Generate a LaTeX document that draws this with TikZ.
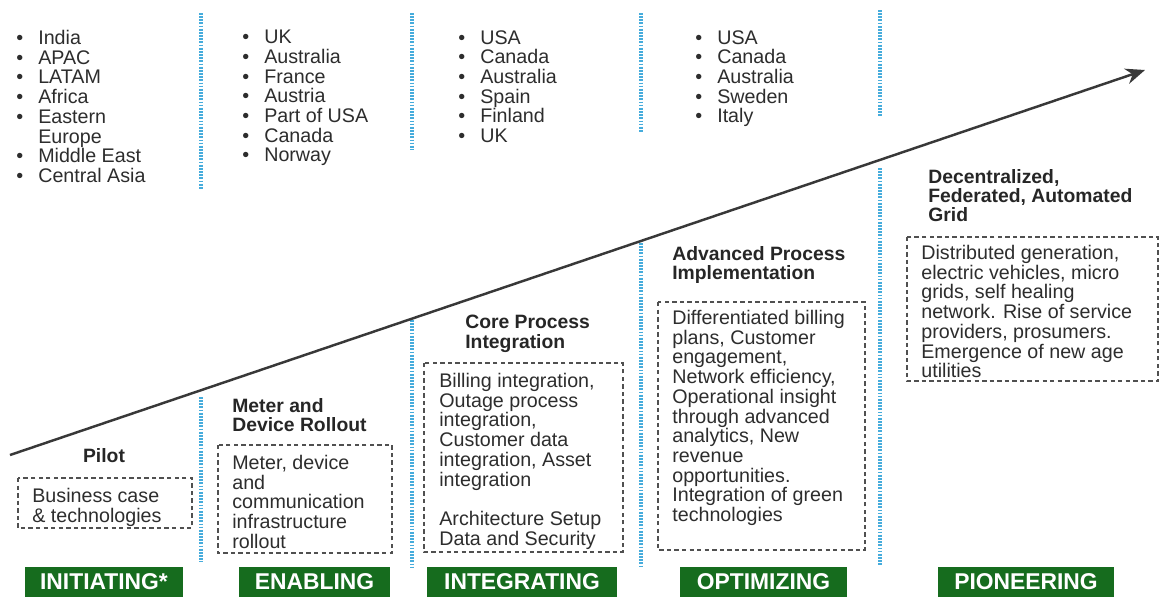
\documentclass[tikz,border=0pt]{standalone}
\usepackage{fontspec}
\setmainfont{Liberation Sans}
\usetikzlibrary{arrows.meta}
\definecolor{stagegreen}{RGB}{22,108,30}
\definecolor{seplblue}{RGB}{70,172,220}
\definecolor{boxgray}{RGB}{80,80,80}
\definecolor{textgray}{RGB}{45,45,45}
\newcommand{\itm}{\makebox[12.5pt][l]{\textbullet}}
\begin{document}
\begin{tikzpicture}[x=0.02cm,y=-0.02cm,
        list/.style={anchor=north west,inner sep=0pt,align=left,text=textgray,font=\fontsize{11.2pt}{11.2pt}\selectfont},
        title/.style={anchor=north west,inner sep=0pt,align=left,text=black!85,font=\fontsize{11pt}{10.9pt}\selectfont\bfseries},
        dbox/.style={draw=boxgray,line width=0.8pt,dash pattern=on 2.5pt off 1.8pt},
        sep/.style={draw=seplblue,line width=2pt,dash pattern=on 1pt off 0.8pt},
        stage/.style={fill=stagegreen,text=white,font=\fontsize{13pt}{13pt}\selectfont\bfseries,minimum height=0.6cm,inner sep=0pt}]
    \fill[white] (0,0) rectangle (1165,599);
    \useasboundingbox (0,0) rectangle (1165,599);
    \draw[sep] (201,13) -- (201,190);
    \draw[sep] (412,13) -- (412,150);
    \draw[sep] (641,13) -- (641,132);
    \draw[sep] (880,10) -- (880,117);
    \draw[sep] (201,397) -- (201,562);
    \draw[sep] (412,320) -- (412,567);
    \draw[sep] (641,243) -- (641,566);
    \draw[sep] (880,168) -- (880,566);
    \node[list] (countriesA) at (16,30) {\itm India\\ \itm APAC\\ \itm LATAM\\ \itm Africa\\ \itm Eastern\\ \hspace*{12.5pt}Europe\\ \itm Middle East\\ \itm Central Asia};
    \node[list] (countriesB) at (242,30) {\itm UK\\ \itm Australia\\ \itm France\\ \itm Austria\\ \itm Part of USA\\ \itm Canada\\ \itm Norway};
    \node[list] (countriesC) at (458,30) {\itm USA\\ \itm Canada\\ \itm Australia\\ \itm Spain\\ \itm Finland\\ \itm UK};
    \node[list] (countriesD) at (695,30) {\itm USA\\ \itm Canada\\ \itm Australia\\ \itm Sweden\\ \itm Italy};
    \coordinate (start) at (10,455);
    \coordinate (tip) at (1145,70);
    \draw[line width=1.4pt,draw=black!78,-{Stealth[length=11pt,width=9pt]}] (start) -- (tip);
    \node[title,anchor=north] (pilot) at (104,448) {Pilot};
    \node[title] (rollout) at (232,398) {Meter and\\Device Rollout};
    \node[title] (core) at (465,315) {Core Process\\Integration};
    \node[title] (advanced) at (672,246) {Advanced Process\\Implementation};
    \node[title] (grid) at (928,169) {Decentralized,\\Federated, Automated\\Grid};
    \draw[dbox] (18,478) rectangle (192,528);
    \node[list] (pilottext) at (32,488) {Business case\\\& technologies};
    \draw[dbox] (218,445) rectangle (392,553);
    \node[list] (rollouttext) at (232,455) {Meter, device\\and\\communication\\infrastructure\\rollout};
    \draw[dbox] (424,363) rectangle (623,552);
    \node[list] (coretext) at (439,373) {Billing integration,\\Outage process\\integration,\\Customer data\\integration, Asset\\integration\\[11.2pt]Architecture Setup\\Data and Security};
    \draw[dbox] (658,302) rectangle (865,550);
    \node[list] (advancedtext) at (672,310) {Differentiated billing\\plans, Customer\\engagement,\\Network efficiency,\\Operational insight\\through advanced\\analytics, New\\revenue\\opportunities.\\Integration of green\\technologies};
    \draw[dbox] (907,237) rectangle (1158,381);
    \node[list] (gridtext) at (921,245) {Distributed generation,\\electric vehicles, micro\\grids, self healing\\network. Rise of service\\providers, prosumers.\\Emergence of new age\\utilities};
    \node[stage,minimum width=3.16cm] (initiating) at (104,582) {INITIATING*};
    \node[stage,minimum width=3.02cm] (enabling) at (314.5,582) {ENABLING};
    \node[stage,minimum width=3.8cm] (integrating) at (522,582) {INTEGRATING};
    \node[stage,minimum width=3.34cm] (optimizing) at (763.5,582) {OPTIMIZING};
    \node[stage,minimum width=3.52cm] (pioneering) at (1026,582) {PIONEERING};
\end{tikzpicture}
\end{document}
